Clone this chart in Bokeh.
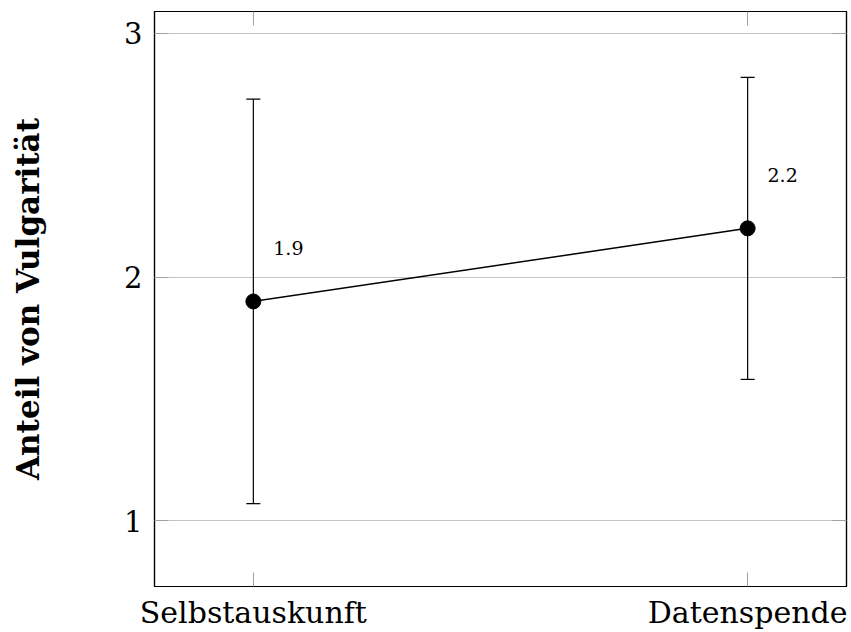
from bokeh.plotting import figure
from bokeh.models import Range1d, FixedTicker, LinearAxis, Whisker, ColumnDataSource, TeeHead
from bokeh.embed import file_html
from bokeh.resources import INLINE

categories = ["Selbstauskunft", "Datenspende"]
means = [1.9, 2.2]
err_lower = [1.07, 1.58]
err_upper = [2.73, 2.82]
mean_labels = ["1.9", "2.2"]
y_ticks = [1, 2, 3]

xs = list(range(len(categories)))
src = ColumnDataSource(dict(x=xs, y=means, lo=err_lower, hi=err_upper, lab=mean_labels))

p = figure(width=851, height=632, output_backend="svg", toolbar_location=None,
           x_range=Range1d(-0.2, 1.2), y_range=Range1d(0.73, 3.09),
           min_border_left=154, min_border_right=5, min_border_top=11, min_border_bottom=46)

p.background_fill_color = "white"
p.border_fill_color = "white"
p.outline_line_color = "black"
p.outline_line_width = 1.2

FONT = "DejaVu Serif"

# axes
for ax in [p.xaxis[0], p.yaxis[0]]:
    ax.major_tick_in = 14
    ax.major_tick_out = 0
    ax.minor_tick_line_color = None
    ax.major_tick_line_color = "#a0a0a0"
    ax.axis_line_color = "black"
    ax.axis_line_width = 1.2
    ax.major_label_text_font = FONT
    ax.major_label_text_font_size = "29px"
    ax.major_label_text_color = "black"

p.xaxis.ticker = FixedTicker(ticks=xs)
p.xaxis.major_label_overrides = {i: c for i, c in enumerate(categories)}
p.xaxis.major_label_text_font_size = "30px"
p.xaxis.major_label_standoff = 8
p.yaxis.ticker = FixedTicker(ticks=y_ticks)
p.yaxis.major_label_standoff = 12
p.yaxis.axis_label = "Anteil von Vulgarität"
p.yaxis.axis_label_text_font = FONT
p.yaxis.axis_label_text_font_style = "bold"
p.yaxis.axis_label_text_font_size = "31px"
p.yaxis.axis_label_text_color = "black"
p.yaxis.axis_label_standoff = 75

# mirrored ticks
top = LinearAxis(ticker=FixedTicker(ticks=xs), major_label_text_font_size="0px",
                 major_tick_in=14, major_tick_out=0, minor_tick_line_color=None,
                 major_tick_line_color="#a0a0a0", axis_line_color="black", axis_line_width=1.2)
top.major_label_text_color = None
right = LinearAxis(ticker=FixedTicker(ticks=y_ticks), major_label_text_font_size="0px",
                   major_tick_in=14, major_tick_out=0, minor_tick_line_color=None,
                   major_tick_line_color="#a0a0a0", axis_line_color="black", axis_line_width=1.2)
right.major_label_text_color = None
p.add_layout(top, "above")
p.add_layout(right, "right")

p.xgrid.grid_line_color = None
p.ygrid.ticker = FixedTicker(ticks=y_ticks)
p.ygrid.grid_line_color = "#c4c4c4"
p.ygrid.grid_line_width = 1

w = Whisker(source=src, base="x", lower="lo", upper="hi", line_color="black", line_width=1.2,
            upper_head=TeeHead(size=14, line_color="black", line_width=1.2),
            lower_head=TeeHead(size=14, line_color="black", line_width=1.2))
p.add_layout(w)

p.line("x", "y", source=src, line_color="black", line_width=1.5)
p.scatter("x", "y", source=src, size=15, fill_color="black", line_color="black")
p.text("x", "y", text="lab", source=src, x_offset=35, y_offset=-53,
       text_align="center", text_baseline="middle", text_font_size="19px",
       text_color="black", text_font={"value": FONT})

open("out.html", "w").write(file_html(p, INLINE))
